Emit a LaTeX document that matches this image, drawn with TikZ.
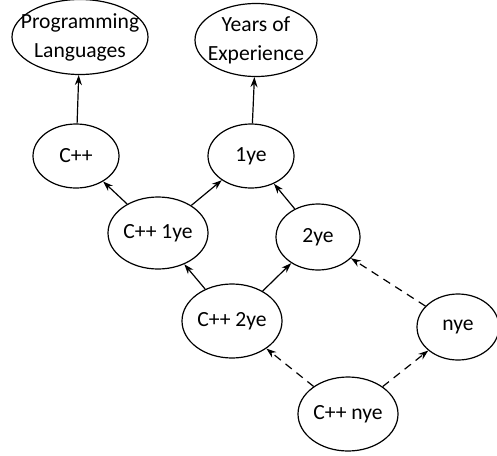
\documentclass[tikz,border=0pt]{standalone}
\usepackage{fontspec}
\setmainfont{Carlito}
\usetikzlibrary{shapes.geometric,arrows.meta}

\tikzset{
  elli/.style={draw,ellipse,inner sep=0pt,line width=0.6pt},
  txt/.style={align=center,inner sep=0pt,font=\fontsize{10.8}{14.5}\selectfont},
  link/.style={-{Stealth[length=5pt,width=3.5pt]},line width=0.6pt},
  maybe/.style={link,dash pattern=on 4pt off 3pt}
}

\begin{document}
\begin{tikzpicture}[x=0.5pt,y=-0.5pt]
\useasboundingbox (0,0) rectangle (497,455);
% Top level
\node[elli,minimum width=68pt,minimum height=37.5pt,
  label={[txt]center:Programming\\Languages}] (lang) at (80,37) {};
\node[elli,minimum width=61pt,minimum height=36.5pt,
  label={[txt]center:Years of\\Experience}] (years) at (256,40) {};

% Second level
\node[elli,minimum width=43pt,minimum height=32pt,label={[txt]center:C++}] (cpp) at (76,156) {};
\node[elli,minimum width=43pt,minimum height=32pt,label={[txt]center:1ye}] (y1) at (251,156) {};

% Third level
\node[elli,minimum width=50pt,minimum height=36pt,label={[txt]center:C++ 1ye}] (cppy1) at (158,233) {};
\node[elli,minimum width=42pt,minimum height=33pt,label={[txt]center:2ye}] (y2) at (318,237) {};

% Fourth level
\node[elli,minimum width=50pt,minimum height=37pt,label={[txt]center:C++ 2ye}] (cppy2) at (232,321) {};
\node[elli,minimum width=41pt,minimum height=33pt,label={[txt]center:nye}] (yn) at (458,327) {};

% Bottom
\node[elli,minimum width=50pt,minimum height=37pt,label={[txt]center:C++ nye}] (cppyn) at (348,414) {};

% Edges
\draw[link] (cpp) -- (lang);
\draw[link] (y1) -- (years);
\draw[link] (cppy1) -- (cpp);
\draw[link] (cppy1) -- (y1);
\draw[link] (y2) -- (y1);
\draw[link] (cppy2) -- (cppy1);
\draw[link] (cppy2) -- (y2);
\draw[maybe] (yn) -- (y2);
\draw[maybe] (cppyn) -- (cppy2);
\draw[maybe] (cppyn) -- (yn);
\end{tikzpicture}
\end{document}
